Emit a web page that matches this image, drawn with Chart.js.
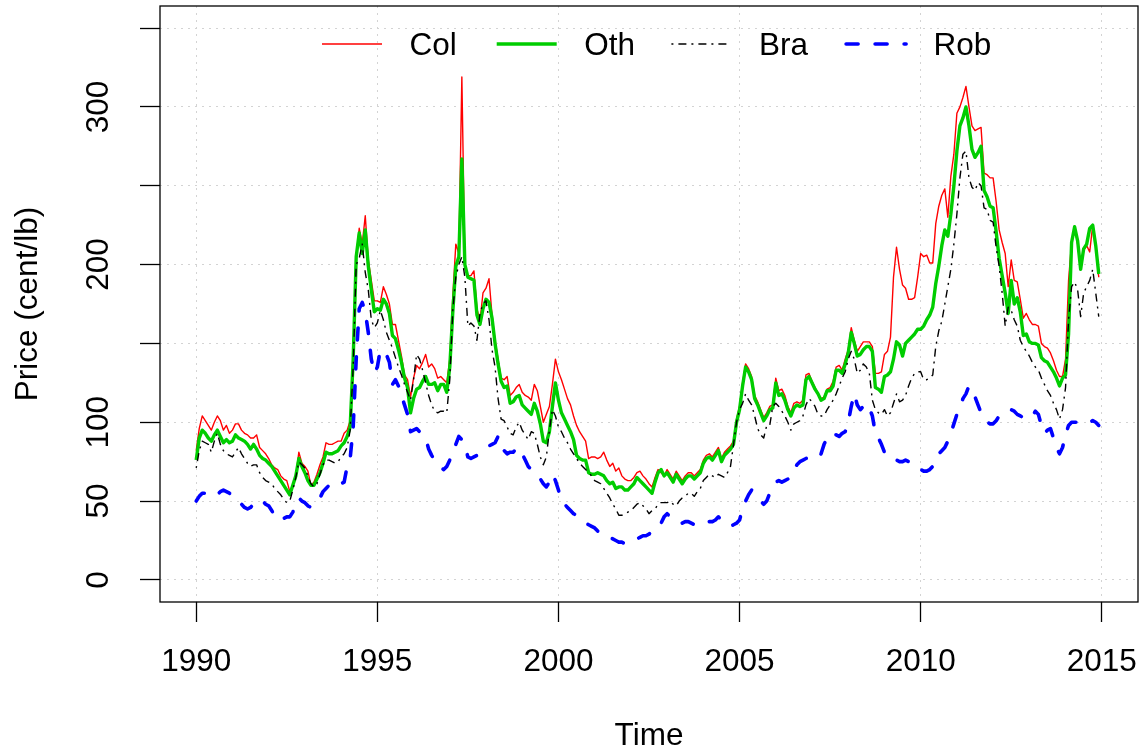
<!DOCTYPE html>
<html>
<head>
<meta charset="utf-8">
<script src="https://cdn.jsdelivr.net/npm/chart.js@4.4.1/dist/chart.umd.min.js"></script>
<style>
  html, body { margin: 0; padding: 0; background: #fff; }
  #wrap { width: 1145px; height: 755px; }
</style>
</head>
<body>
<div id="wrap"><canvas id="chart" width="1145" height="755"></canvas></div>
<script>
// ── Monthly coffee prices, Jan 1990 – Dec 2014 (cent/lb), one row per year ──
const col = [
  82, 96, 104, 101, 98, 95, 100, 104, 101, 95, 98, 93,
  95, 99, 99, 95, 93, 92, 90, 90, 92, 84, 82, 80,
  77, 73, 71, 70, 66, 64, 63, 56, 60, 66, 81, 74,
  72, 69, 60, 62, 67, 73, 78, 87, 86, 86, 87, 88,
  88, 93, 95, 101, 146, 205, 223, 213, 231, 203, 190, 177,
  177, 176, 186, 181, 175, 162, 162, 152, 142, 130, 127, 116,
  128, 136, 134, 138, 143, 135, 137, 134, 128, 129, 127, 125,
  140, 180, 213, 207, 319, 200, 193, 193, 196, 172, 164, 182,
  185, 191, 168, 152, 140, 128, 127, 129, 117, 119, 122, 124,
  119, 117, 116, 114, 124, 120, 110, 100, 105, 110, 124, 140,
  132, 127, 121, 115, 111, 104, 98, 94, 91, 88, 77, 78,
  78, 77, 78, 81, 76, 72, 74, 69, 71, 66, 64, 63,
  63, 65, 68, 69, 66, 64, 61, 59, 65, 70, 68, 66,
  70, 67, 64, 69, 66, 63, 66, 68, 68, 66, 68, 70,
  76, 79, 80, 78, 81, 84, 77, 81, 83, 85, 88, 102,
  110, 125, 137, 134, 129, 117, 113, 108, 103, 106, 110, 111,
  128, 120, 121, 117, 110, 106, 112, 113, 112, 114, 130, 131,
  126, 122, 118, 115, 116, 121, 122, 126, 135, 136, 133, 140,
  146, 160, 152, 145, 148, 151, 151, 151, 148, 131, 131, 132,
  143, 145, 154, 192, 211, 197, 187, 185, 178, 178, 179, 192,
  207, 205, 206, 201, 201, 226, 237, 244, 248, 230, 256, 270,
  296, 300, 306, 313, 300, 288, 285, 286, 287, 258, 257, 255,
  255, 240, 222, 214, 207, 186, 203, 190, 189, 178, 166, 169,
  165, 162, 162, 161, 150, 148, 147, 144, 139, 133, 129, 129,
  140, 190, 214, 224, 213, 197, 209, 212, 208, 225, 211, 192
];
const oth = [
  76, 90, 95, 93, 90, 88, 92, 95, 91, 87, 89, 87,
  88, 92, 90, 89, 88, 86, 83, 86, 83, 79, 77, 76,
  74, 72, 69, 66, 63, 60, 57, 54, 60, 66, 77, 72,
  68, 63, 60, 60, 64, 68, 74, 81, 80, 80, 81, 82,
  85, 87, 91, 97, 140, 205, 220, 207, 222, 199, 184, 170,
  172, 171, 178, 175, 169, 155, 153, 146, 138, 128, 122, 106,
  115, 121, 122, 126, 129, 124, 124, 125, 120, 124, 124, 119,
  135, 170, 199, 205, 267, 200, 192, 191, 190, 168, 162, 172,
  178, 176, 166, 150, 137, 126, 122, 123, 112, 113, 116, 117,
  111, 109, 107, 105, 112, 107, 99, 88, 87, 94, 110, 125,
  114, 106, 102, 98, 94, 89, 79, 77, 76, 76, 68, 67,
  67, 68, 67, 66, 63, 61, 62, 58, 59, 59, 57, 57,
  59, 61, 65, 63, 61, 59, 57, 55, 62, 68, 70, 66,
  68, 65, 62, 67, 64, 61, 64, 66, 66, 64, 66, 68,
  74, 77, 78, 76, 79, 82, 75, 79, 81, 83, 86, 100,
  108, 123, 135, 132, 127, 115, 111, 106, 101, 104, 108, 109,
  125, 117, 118, 114, 108, 104, 109, 111, 110, 111, 127, 129,
  125, 121, 118, 114, 115, 120, 120, 123, 133, 133, 131, 137,
  144, 157, 150, 142, 143, 146, 148, 148, 145, 122, 121, 119,
  129, 130, 132, 140, 151, 149, 142, 150, 152, 154, 156, 159,
  159, 161, 165, 168, 173, 188, 199, 212, 222, 218, 232, 250,
  272, 288, 293, 300, 288, 273, 268, 271, 275, 247, 243, 237,
  236, 221, 204, 193, 182, 169, 190, 175, 179, 170, 155, 156,
  151, 150, 150, 149, 141, 139, 138, 135, 132, 128, 123, 128,
  130, 156, 214, 224, 215, 197, 210, 213, 223, 225, 212, 194
];
const bra = [
  71, 82, 88, 87, 86, 81, 88, 93, 86, 82, 80, 79,
  78, 81, 84, 80, 77, 74, 72, 73, 73, 68, 65, 63,
  62, 61, 58, 56, 54, 51, 49, 50, 57, 65, 75, 73,
  71, 66, 61, 59, 61, 67, 73, 76, 76, 75, 74, 75,
  78, 80, 84, 95, 135, 200, 204, 213, 195, 184, 165, 160,
  163, 171, 165, 157, 152, 147, 141, 135, 130, 124, 119, 114,
  127, 143, 140, 133, 125, 117, 111, 107, 106, 107, 107, 106,
  127, 171, 192, 200, 205, 192, 161, 163, 161, 152, 169, 175,
  177, 165, 146, 135, 115, 102, 101, 97, 93, 92, 97, 100,
  95, 92, 89, 94, 93, 86, 78, 73, 78, 95, 108, 104,
  97, 94, 90, 87, 83, 80, 77, 74, 72, 70, 68, 66,
  63, 62, 61, 58, 55, 52, 48, 45, 41, 41, 42, 43,
  44, 46, 48, 49, 47, 45, 42, 44, 45, 48, 49, 49,
  49, 50, 48, 47, 50, 52, 53, 55, 55, 53, 56, 58,
  63, 65, 67, 66, 65, 67, 66, 65, 68, 72, 86, 100,
  108, 112, 118, 114, 111, 104, 96, 92, 90, 98, 98, 110,
  112, 110, 107, 104, 100, 95, 99, 100, 101, 104, 111, 115,
  113, 110, 105, 104, 104, 108, 111, 114, 118, 123, 128, 132,
  140, 145, 140, 131, 133, 137, 135, 131, 114, 108, 106, 105,
  108, 104, 106, 112, 118, 113, 114, 117, 123, 128, 131, 132,
  132, 127, 127, 128, 130, 148, 158, 164, 175, 186, 197, 213,
  232, 255, 270, 272, 255, 249, 247, 252, 250, 236, 235, 228,
  227, 211, 199, 182, 161, 173, 171, 165, 161, 152, 148, 145,
  142, 138, 135, 133, 128, 124, 120, 117, 112, 108, 102, 108,
  122, 165, 186, 189, 184, 167, 182, 186, 190, 197, 182, 167
];
const rob = [
  50, 53, 55, 55, 54, 53, 53, 54, 56, 57, 56, 55,
  54, 53, 51, 48, 46, 45, 46, 48, 49, 51, 50, 48,
  47, 44, 41, 38, 38, 39, 40, 40, 43, 48, 52, 50,
  49, 47, 46, 47, 50, 52, 56, 58, 60, 62, 62, 61,
  61, 62, 72, 77, 97, 140, 172, 176, 170, 157, 140, 131,
  135, 146, 145, 143, 138, 124, 127, 123, 117, 111, 105, 94,
  95, 96, 94, 92, 90, 83, 79, 76, 73, 71, 70, 72,
  76, 80, 86, 91, 89, 85, 78, 77, 78, 79, 80, 82,
  84, 85, 86, 87, 91, 84, 82, 80, 81, 81, 83, 84,
  80, 76, 72, 70, 67, 66, 64, 61, 59, 62, 67, 63,
  57, 50, 48, 46, 44, 42, 41, 39, 38, 36, 35, 34,
  33, 31, 30, 30, 29, 27, 26, 25, 24, 24, 23, 24,
  24, 25, 26, 27, 28, 28, 29, 31, 32, 33, 36, 40,
  42, 40, 38, 37, 36, 36, 37, 37, 36, 35, 35, 35,
  36, 36, 37, 37, 38, 40, 38, 36, 35, 34, 35, 36,
  38, 45, 50, 54, 57, 55, 53, 50, 48, 50, 55, 60,
  62, 63, 62, 63, 64, 65, 70, 73, 75, 76, 77, 78,
  79, 78, 78, 80, 86, 90, 93, 92, 92, 91, 93, 94,
  100, 110, 118, 111, 108, 110, 112, 109, 104, 93, 90, 86,
  81, 78, 77, 76, 76, 75, 75, 76, 75, 74, 72, 70,
  70, 69, 69, 70, 72, 78, 80, 82, 84, 88, 93, 99,
  105, 109, 115, 118, 123, 120, 116, 111, 106, 102, 100, 99,
  99, 101, 104, 106, 107, 108, 108, 107, 105, 104, 103, 102,
  102, 104, 107, 105, 98, 93, 95, 96, 90, 84, 80, 84,
  92, 98, 100, 100, 100, 101, 101, 101, 100, 101, 100, 98
];

// time axis: one label per month, as decimal years
const months = col.map((_, i) => 1990 + i / 12);

const xTicks = [1990, 1995, 2000, 2005, 2010, 2015];
const yTicks = [0, 50, 100, 150, 200, 250, 300, 350];
const yLabelled = [0, 50, 100, 200, 300];

const FONT = { family: "'Liberation Sans', Arial, Helvetica, sans-serif", size: 31.5, lineHeight: 1.2 };
const FONT_STR = `${FONT.size}px ${FONT.family}`;

// horizontal legend inside the plot, no frame
const legendRow = {
  id: 'legendRow',
  afterDatasetsDraw(chart) {
    const { ctx, chartArea } = chart;
    const y = chartArea.top + 38;
    ctx.save();
    chart.data.datasets.forEach((ds, i) => {
      const x = chartArea.left + 162 + i * 174.7;
      ctx.beginPath();
      ctx.strokeStyle = ds.borderColor;
      ctx.lineWidth = ds.borderWidth;
      ctx.lineCap = ds.borderCapStyle || 'butt';
      ctx.setLineDash(ds.borderDash || []);
      ctx.moveTo(x, y);
      ctx.lineTo(x + 60, y);
      ctx.stroke();
      ctx.setLineDash([]);
      ctx.fillStyle = '#000';
      ctx.font = FONT_STR;
      ctx.textBaseline = 'middle';
      ctx.textAlign = 'left';
      ctx.fillText(ds.label, x + 87.5, y + 2);
    });
    ctx.restore();
  }
};

// box around the plot region
const plotBox = {
  id: 'plotBox',
  afterDraw(chart) {
    const { ctx, chartArea: a } = chart;
    ctx.save();
    ctx.strokeStyle = '#000';
    ctx.lineWidth = 1.3;
    ctx.strokeRect(a.left, a.top, a.right - a.left, a.bottom - a.top);
    ctx.restore();
  }
};

const gridOpts = {
  color: '#d3d3d3',
  lineWidth: 1,
  tickLength: 20,
  tickColor: '#000',
  tickWidth: 1.3
};

new Chart(document.getElementById('chart'), {
  type: 'line',
  data: {
    labels: months,
    datasets: [
      { label: 'Col', data: col, borderColor: '#ff0000', borderWidth: 1.4, order: 4 },
      { label: 'Oth', data: oth, borderColor: '#00cd00', borderWidth: 3.4, order: 3 },
      { label: 'Bra', data: bra, borderColor: '#000000', borderWidth: 1.4, borderDash: [2, 5, 8, 5], order: 2 },
      { label: 'Rob', data: rob, borderColor: '#0000ff', borderWidth: 3.6, borderDash: [12, 17], borderCapStyle: 'round', order: 1 }
    ]
  },
  options: {
    responsive: false,
    animation: false,
    devicePixelRatio: 1,
    layout: { padding: { left: 0, top: 6, right: 7, bottom: 0 } },
    elements: {
      point: { radius: 0 },
      line: { tension: 0, borderJoinStyle: 'round', fill: false }
    },
    plugins: { legend: { display: false }, tooltip: { enabled: false } },
    scales: {
      x: {
        type: 'linear',
        min: 1989, max: 2016,
        afterBuildTicks: s => { s.ticks = xTicks.map(v => ({ value: v })); },
        afterFit: s => { s.height = 153; s.paddingLeft = 0; s.paddingRight = 0; },
        ticks: { autoSkip: false, maxRotation: 0, padding: 21, font: FONT, color: '#000', callback: v => String(v) },
        grid: gridOpts,
        border: { display: false, dash: [2, 5] },
        title: { display: true, text: 'Time', font: FONT, color: '#000', padding: { top: 0, bottom: 0 } }
      },
      y: {
        min: -14, max: 364,
        afterBuildTicks: s => { s.ticks = yTicks.map(v => ({ value: v })); },
        afterFit: s => { s.width = 160; s.paddingTop = 0; s.paddingBottom = 0; },
        ticks: {
          autoSkip: false, minRotation: 90, maxRotation: 90, crossAlign: 'center', padding: 14,
          font: FONT, color: '#000',
          callback: v => yLabelled.includes(v) ? String(v) : ''
        },
        grid: gridOpts,
        border: { display: false, dash: [2, 5] },
        title: { display: true, text: 'Price (cent/lb)', font: FONT, color: '#000', padding: { top: 9, bottom: 0 } }
      }
    }
  },
  plugins: [legendRow, plotBox]
});
</script>
</body>
</html>
